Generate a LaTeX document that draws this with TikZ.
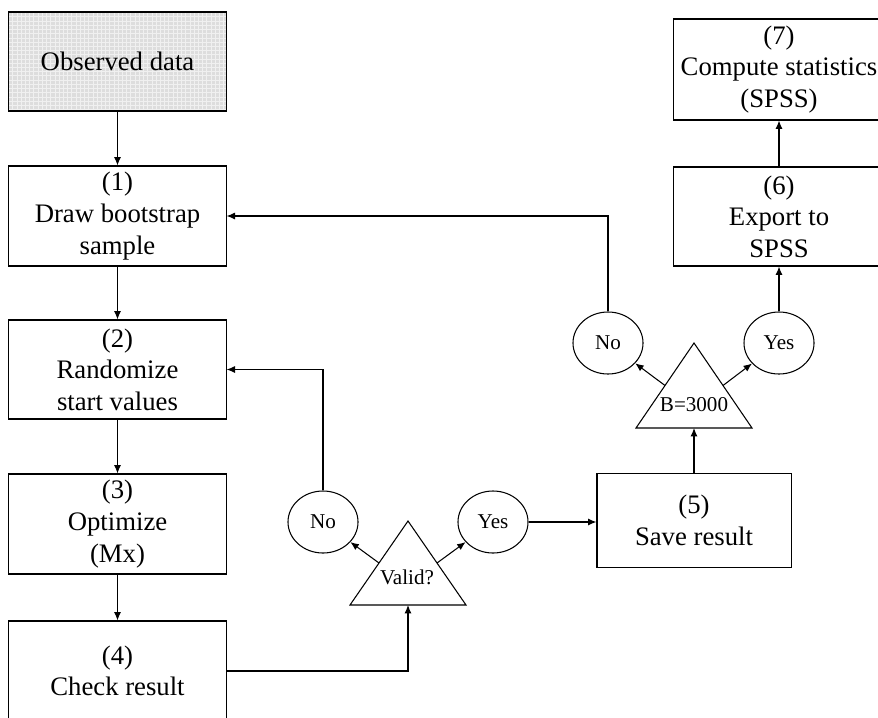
\documentclass[tikz,border=0pt]{standalone}
\usepackage{fontspec}
\setmainfont{Liberation Serif}
\usetikzlibrary{shapes.geometric,arrows.meta,patterns,calc}

\tikzset{
  stepbox/.style={draw, fill=white, align=center, inner sep=0pt,
    minimum width=154.4pt, minimum height=71.1pt,
    font=\fontsize{19}{22.5}\selectfont},
  answer/.style={draw, ellipse, inner sep=0pt, minimum width=49.8pt,
    minimum height=44.1pt, font=\fontsize{15}{17}\selectfont},
  test/.style={font=\fontsize{15}{17}\selectfont, inner sep=0pt},
  flow/.style={-{Latex[length=6pt,width=5pt]}}
}

\begin{document}
\begin{tikzpicture}[x=0.025cm, y=-0.025cm, line width=0.75pt]
		\useasboundingbox (0,0) rectangle (878,717);
		\clip (0,0) rectangle (878,717);
		% left column
		\node[stepbox, minimum height=70.4pt, preaction={fill=gray!27}, pattern=grid, pattern color=gray!12] (obs) at (117.5,61.5) {Observed data};
		\node[stepbox] (draw) at (117.5,216) {(1)\\Draw bootstrap\\sample};
		\node[stepbox, minimum height=70.4pt] (rand) at (117.5,369.5) {(2)\\Randomize\\start values};
		\node[stepbox] (opt) at (117.5,524) {(3)\\Optimize\\(Mx)};
		\node[stepbox] (check) at (117.5,671) {(4)\\Check result};
		% right part
		\node[stepbox, minimum width=138pt, minimum height=66.2pt] (save) at (694,520.5) {(5)\\Save result};
		\node[stepbox, minimum width=149.4pt, minimum height=70.4pt] (export) at (779,216.5) {(6)\\Export to\\SPSS};
		\node[stepbox, minimum width=149.4pt, minimum height=71.8pt] (stats) at (779,69.5) {(7)\\Compute statistics\\(SPSS)};
		% decisions
		\coordinate (va) at (408,521);
		\coordinate (vl) at (350,605);
		\coordinate (vr) at (466,605);
		\draw (va) -- (vl) -- (vr) -- cycle;
		\node[test] (valid) at (407,577) {Valid?};
		\coordinate (ba) at (694,343);
		\coordinate (bl) at (636,428);
		\coordinate (br) at (752,428);
		\draw (ba) -- (bl) -- (br) -- cycle;
		\node[test] (bcount) at (694,405) {B=3000};
		\node[answer] (no1) at (323,522) {No};
		\node[answer] (yes1) at (493,522) {Yes};
		\node[answer] (no2) at (608,343) {No};
		\node[answer] (yes2) at (779,343) {Yes};
		% connectors
		\draw[flow] (obs) -- (draw);
		\draw[flow] (draw) -- (rand);
		\draw[flow] (rand) -- (opt);
		\draw[flow] (opt) -- (check);
		\draw[flow] (check.east) -| ($(vl)!0.5!(vr)$);
		\draw[flow] ($(va)!0.5!(vl)$) -- (no1);
		\draw[flow] ($(va)!0.5!(vr)$) -- (yes1);
		\draw[flow] (no1.north) |- (rand.east);
		\draw[flow] (yes1.east) -- (yes1.east -| save.west);
		\draw[flow] (save.north) -- ($(bl)!0.5!(br)$);
		\draw[flow] ($(ba)!0.5!(bl)$) -- (no2);
		\draw[flow] ($(ba)!0.5!(br)$) -- (yes2);
		\draw[flow] (no2.north) |- (draw.east);
		\draw[flow] (yes2) -- (export);
		\draw[flow] (export) -- (stats);
		\end{tikzpicture}
\end{document}
